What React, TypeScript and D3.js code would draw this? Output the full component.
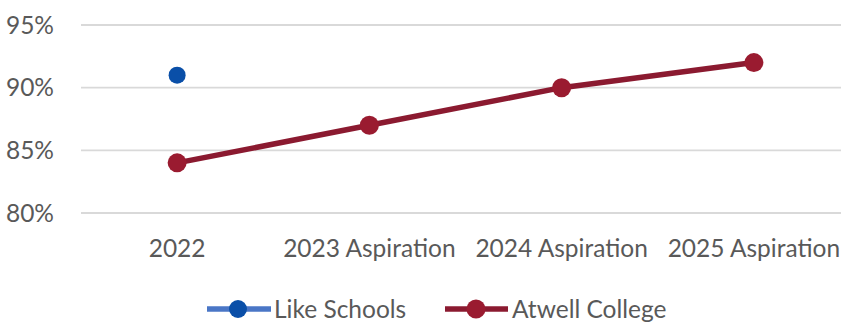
import React from "react";
import * as d3 from "d3";

const categories = ["2022", "2023 Aspiration", "2024 Aspiration", "2025 Aspiration"];
const likeSchools: (number | null)[] = [91, null, null, null];
const atwellCollege = [84, 87, 90, 92];
const yTicks = [80, 85, 90, 95];
const seriesNames = ["Like Schools", "Atwell College"];

const W = 841;
const H = 322;
const FONT = "Lato, 'Noto Sans', sans-serif";
const FS = 24.5;

export default function App() {
  const x = d3.scaleBand<string>().domain(categories).range([81, 850]);
  const y = d3.scaleLinear().domain([80, 95]).range([213, 25]);
  const cx = (c: string) => (x(c) ?? 0) + x.bandwidth() / 2;
  const red = "#8B1A30";
  const redMarker = "#9A1B30";
  const blue = "#0A4FA8";
  const blueLine = "#4A76C6";

  const line = d3
    .line<number>()
    .x((_, i) => cx(categories[i]))
    .y((d) => y(d));

  const ly = 309;

  return (
    <svg width={W} height={H} style={{ position: "absolute", left: 0, top: 0, background: "#fff" }}>
      {yTicks.map((t) => (
        <g key={t}>
          <line x1={81} x2={W} y1={y(t)} y2={y(t)} stroke="#d9d9d9" strokeWidth={1.8} />
          <text x={54} y={y(t)} dy="0.35em" textAnchor="end" fontFamily={FONT} fontSize={FS} fill="#595959">
            {t}%
          </text>
        </g>
      ))}
      {categories.map((c) => (
        <text key={c} x={cx(c)} y={248} dy="0.35em" textAnchor="middle" fontFamily={FONT} fontSize={FS} fill="#595959">
          {c}
        </text>
      ))}
      <path d={line(atwellCollege) ?? ""} fill="none" stroke={red} strokeWidth={5.5} strokeLinecap="round" />
      {atwellCollege.map((v, i) => (
        <circle key={i} cx={cx(categories[i])} cy={y(v)} r={9.5} fill={redMarker} />
      ))}
      {likeSchools.map((v, i) =>
        v == null ? null : <circle key={i} cx={cx(categories[i])} cy={y(v)} r={8.5} fill={blue} />
      )}
      {/* legend */}
      <g>
        <line x1={207} x2={271} y1={ly} y2={ly} stroke={blueLine} strokeWidth={5.5} />
        <circle cx={238} cy={ly} r={9} fill={blue} />
        <text x={274} y={ly} dy="0.35em" fontFamily={FONT} fontSize={FS} fill="#595959">
          {seriesNames[0]}
        </text>
        <line x1={445} x2={508} y1={ly} y2={ly} stroke={red} strokeWidth={5.5} />
        <circle cx={476} cy={ly} r={9.5} fill={redMarker} />
        <text x={512} y={ly} dy="0.35em" fontFamily={FONT} fontSize={FS} fill="#595959">
          {seriesNames[1]}
        </text>
      </g>
    </svg>
  );
}
